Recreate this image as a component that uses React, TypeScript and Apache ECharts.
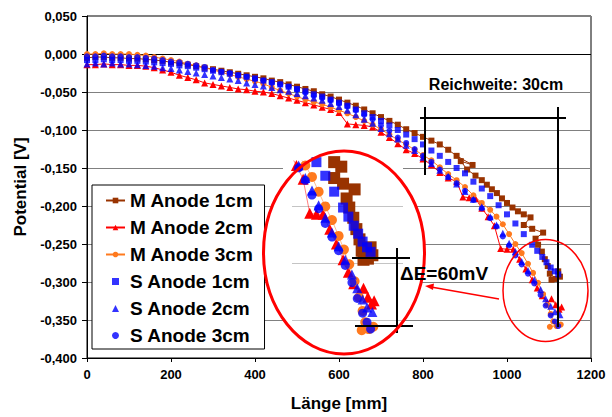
import React, { useEffect, useRef } from 'react';
import * as echarts from 'echarts';

const NAMES = ['M Anode 1cm', 'M Anode 2cm', 'M Anode 3cm', 'S Anode 1cm', 'S Anode 2cm', 'S Anode 3cm'];

const X_TICKS = [0, 200, 400, 600, 800, 1000, 1200];
const Y_MIN = -0.4;
const Y_MAX = 0.05;

// M Anode 1cm
const X_M1 = [0, 20, 40, 60, 80, 100, 120, 140, 160, 180, 200, 220, 240, 260, 280, 300, 320, 340, 360, 380, 400, 420, 440, 460, 480, 500, 520, 540, 560, 580, 600, 620, 640, 660, 680, 700, 720, 740, 760, 780, 800, 820, 840, 860, 880, 918, 890, 905, 925, 940, 952, 964, 976, 988, 1000, 1013, 1026, 1040, 1056, 1040, 1060, 1086, 1068, 1074, 1083, 1090, 1097, 1102, 1106, 1116, 1126, 1122];
const Y_M1 = [-0.005, -0.004, -0.004, -0.005, -0.005, -0.006, -0.006, -0.007, -0.008, -0.009, -0.011, -0.012, -0.014, -0.016, -0.018, -0.020, -0.022, -0.024, -0.026, -0.028, -0.030, -0.032, -0.035, -0.037, -0.040, -0.043, -0.046, -0.049, -0.053, -0.056, -0.060, -0.064, -0.068, -0.073, -0.078, -0.083, -0.088, -0.093, -0.099, -0.104, -0.109, -0.114, -0.119, -0.126, -0.134, -0.146, -0.141, -0.152, -0.160, -0.166, -0.172, -0.178, -0.183, -0.190, -0.196, -0.202, -0.207, -0.211, -0.215, -0.225, -0.230, -0.235, -0.243, -0.251, -0.260, -0.270, -0.279, -0.289, -0.297, -0.296, -0.293, -0.286];

// M Anode 2cm
const X_M2 = [0, 20, 40, 60, 80, 100, 120, 140, 160, 180, 200, 220, 240, 260, 280, 300, 320, 340, 360, 380, 400, 420, 440, 460, 480, 500, 520, 540, 560, 580, 600, 620, 640, 660, 680, 700, 720, 740, 760, 780, 800, 820, 840, 860, 880, 895, 910, 925, 940, 955, 970, 985, 1000, 1015, 1030, 1045, 1060, 1072, 1084, 1096, 1106, 1116, 1124, 1130];
const Y_M2 = [-0.014, -0.014, -0.013, -0.014, -0.014, -0.015, -0.015, -0.016, -0.018, -0.021, -0.024, -0.028, -0.031, -0.034, -0.038, -0.040, -0.042, -0.044, -0.046, -0.047, -0.049, -0.050, -0.052, -0.055, -0.058, -0.061, -0.064, -0.067, -0.070, -0.073, -0.077, -0.092, -0.093, -0.094, -0.096, -0.103, -0.110, -0.118, -0.126, -0.131, -0.138, -0.146, -0.156, -0.163, -0.168, -0.188, -0.189, -0.190, -0.203, -0.214, -0.226, -0.256, -0.257, -0.257, -0.270, -0.283, -0.297, -0.308, -0.318, -0.327, -0.322, -0.330, -0.336, -0.333];

// M Anode 3cm
const X_M3 = [0, 20, 40, 60, 80, 100, 120, 140, 160, 180, 200, 220, 240, 260, 280, 300, 320, 340, 360, 380, 400, 420, 440, 460, 480, 500, 520, 540, 560, 580, 600, 620, 640, 660, 680, 700, 720, 740, 760, 780, 800, 820, 840, 860, 880, 900, 920, 940, 960, 975, 990, 1005, 1020, 1035, 1050, 1062, 1074, 1086, 1096, 1104, 1110, 1118, 1128, 1102];
const Y_M3 = [0.000, 0.000, 0.001, 0.000, 0.000, 0.000, -0.001, -0.002, -0.004, -0.006, -0.008, -0.010, -0.013, -0.015, -0.018, -0.021, -0.024, -0.027, -0.030, -0.033, -0.036, -0.039, -0.044, -0.048, -0.052, -0.056, -0.060, -0.063, -0.066, -0.070, -0.074, -0.078, -0.083, -0.088, -0.093, -0.099, -0.106, -0.113, -0.119, -0.126, -0.133, -0.140, -0.149, -0.158, -0.166, -0.175, -0.186, -0.196, -0.205, -0.214, -0.224, -0.237, -0.250, -0.262, -0.276, -0.288, -0.301, -0.316, -0.330, -0.342, -0.352, -0.358, -0.356, -0.359];

// S Anode 1cm
const X_S1 = [0, 20, 40, 60, 80, 100, 120, 140, 160, 180, 200, 220, 240, 260, 280, 300, 320, 340, 360, 380, 400, 420, 440, 460, 480, 500, 520, 540, 560, 580, 600, 620, 640, 660, 680, 700, 720, 740, 760, 780, 800, 820, 840, 860, 880, 900, 920, 940, 960, 980, 1000, 1020, 1040, 1060, 1072, 1084, 1094, 1104, 1114, 1122];
const Y_S1 = [-0.008, -0.008, -0.007, -0.008, -0.008, -0.009, -0.009, -0.010, -0.011, -0.012, -0.013, -0.015, -0.016, -0.018, -0.020, -0.022, -0.024, -0.026, -0.028, -0.030, -0.032, -0.035, -0.037, -0.040, -0.043, -0.046, -0.049, -0.053, -0.056, -0.060, -0.064, -0.068, -0.073, -0.078, -0.083, -0.088, -0.094, -0.100, -0.106, -0.112, -0.119, -0.127, -0.134, -0.142, -0.150, -0.157, -0.168, -0.177, -0.187, -0.199, -0.211, -0.223, -0.237, -0.251, -0.259, -0.267, -0.274, -0.281, -0.286, -0.290];

// S Anode 2cm
const X_S2 = [0, 20, 40, 60, 80, 100, 120, 140, 160, 180, 200, 220, 240, 260, 280, 300, 320, 340, 360, 380, 400, 420, 440, 460, 480, 500, 520, 540, 560, 580, 600, 620, 640, 660, 680, 700, 720, 740, 760, 780, 800, 820, 840, 860, 880, 900, 920, 940, 960, 975, 990, 1005, 1020, 1035, 1050, 1065, 1080, 1092, 1104, 1114, 1126];
const Y_S2 = [-0.013, -0.012, -0.013, -0.012, -0.013, -0.013, -0.014, -0.015, -0.016, -0.018, -0.019, -0.021, -0.023, -0.025, -0.027, -0.029, -0.031, -0.033, -0.035, -0.038, -0.040, -0.042, -0.044, -0.047, -0.049, -0.052, -0.055, -0.058, -0.061, -0.065, -0.069, -0.074, -0.080, -0.086, -0.091, -0.098, -0.105, -0.112, -0.120, -0.127, -0.136, -0.144, -0.153, -0.161, -0.171, -0.181, -0.191, -0.201, -0.214, -0.225, -0.236, -0.249, -0.260, -0.273, -0.285, -0.297, -0.310, -0.322, -0.332, -0.339, -0.343];

// S Anode 3cm
const X_S3 = [0, 20, 40, 60, 80, 100, 120, 140, 160, 180, 200, 220, 240, 260, 280, 300, 320, 340, 360, 380, 400, 420, 440, 460, 480, 500, 520, 540, 560, 580, 600, 620, 640, 660, 680, 700, 720, 740, 760, 780, 800, 820, 840, 860, 880, 900, 920, 940, 960, 975, 990, 1005, 1020, 1035, 1050, 1065, 1080, 1092, 1104, 1114, 1122];
const Y_S3 = [-0.003, -0.003, -0.002, -0.003, -0.003, -0.004, -0.004, -0.005, -0.006, -0.008, -0.010, -0.011, -0.013, -0.015, -0.017, -0.021, -0.023, -0.025, -0.028, -0.030, -0.033, -0.035, -0.038, -0.040, -0.043, -0.047, -0.051, -0.055, -0.058, -0.061, -0.065, -0.069, -0.074, -0.080, -0.086, -0.094, -0.101, -0.110, -0.117, -0.125, -0.134, -0.142, -0.152, -0.162, -0.170, -0.180, -0.192, -0.203, -0.216, -0.227, -0.240, -0.252, -0.265, -0.277, -0.289, -0.302, -0.317, -0.331, -0.344, -0.352, -0.358];

// inset (zoomed view) ranges and its grid values
const INSET_X_RANGE = [945, 1195];
const INSET_Y_RANGE = [-0.365, -0.21];
const INSET_GRID_VALUES = [-0.25, -0.3, -0.35];

const FONT = '"Liberation Sans", Arial, Helvetica, sans-serif';

const ICON_SQUARE = 'path://M0,0L10,0L10,10L0,10Z';
const ICON_TRIANGLE = 'path://M5,0L10,10L0,10Z';

const pairs = (xs: number[], ys: number[]) => {
  const n = Math.min(xs.length, ys.length);
  const out: number[][] = [];
  for (let i = 0; i < n; i++) out.push([xs[i], ys[i]]);
  return out;
};

const DEFS = [
  { name: NAMES[0], xs: X_M1, ys: Y_M1, color: '#993300', symbol: 'rect', line: true, size: 6, insetSize: 12, icon: '' },
  { name: NAMES[1], xs: X_M2, ys: Y_M2, color: '#FF0000', symbol: 'triangle', line: true, size: 7, insetSize: 11, icon: '' },
  { name: NAMES[2], xs: X_M3, ys: Y_M3, color: '#FF7A1E', symbol: 'circle', line: true, size: 6, insetSize: 10, icon: '' },
  { name: NAMES[3], xs: X_S1, ys: Y_S1, color: '#0000FF', symbol: 'rect', line: false, size: 6, insetSize: 10, icon: ICON_SQUARE },
  { name: NAMES[4], xs: X_S2, ys: Y_S2, color: '#0000FF', symbol: 'triangle', line: false, size: 7, insetSize: 10, icon: ICON_TRIANGLE },
  { name: NAMES[5], xs: X_S3, ys: Y_S3, color: '#0000FF', symbol: 'circle', line: false, size: 6, insetSize: 9, icon: 'circle' },
];

export default function App() {
  const ref = useRef<HTMLDivElement>(null);
  useEffect(() => {
    document.body.style.margin = '0';
    const chart = echarts.init(ref.current!, null, { renderer: 'svg' });

    const series: any[] = [];
    DEFS.forEach((d, i) => {
      const data = pairs(d.xs, d.ys);
      const s: any = {
        name: d.name,
        type: d.line ? 'line' : 'scatter',
        xAxisIndex: 0,
        yAxisIndex: 0,
        data,
        symbol: d.symbol,
        symbolSize: d.size,
        itemStyle: { color: d.color },
        z: 2,
        silent: true,
      };
      if (d.line) {
        s.showSymbol = true;
        s.lineStyle = { color: d.color, width: 1 };
        s.clip = true;
      }
      if (i === 0) {
        s.markLine = {
          silent: true,
          symbol: 'none',
          z: 1,
          label: { show: false },
          lineStyle: { color: '#000', width: 1, type: 'solid' },
          data: [{ yAxis: 0 }],
        };
      }
      series.push(s);
    });
    DEFS.forEach((d, i) => {
      const data = pairs(d.xs, d.ys);
      const s: any = {
        name: d.name,
        type: d.line ? 'line' : 'scatter',
        xAxisIndex: 1,
        yAxisIndex: 1,
        data,
        symbol: d.symbol,
        symbolSize: d.insetSize,
        itemStyle: { color: d.color },
        z: 6,
        silent: true,
        clip: true,
      };
      if (d.line) {
        s.showSymbol = true;
        s.lineStyle = { color: d.color, width: 1, opacity: i === 0 ? 1 : 0.5 };
      }
      if (i === 0) {
        s.markLine = {
          silent: true,
          symbol: 'none',
          z: 4,
          label: { show: false },
          lineStyle: { color: '#c4c4c4', width: 1, type: 'solid' },
          data: INSET_GRID_VALUES.map((v) => ({ yAxis: v })),
        };
      }
      series.push(s);
    });

    const bold = (size: number) => `bold ${size}px ${FONT}`;
    const line = (x1: number, y1: number, x2: number, y2: number, color: string, w: number, z: number) => ({
      type: 'line',
      shape: { x1, y1, x2, y2 },
      style: { stroke: color, lineWidth: w },
      z,
      silent: true,
    });

    const graphic: any[] = [
      { type: 'rect', shape: { x: 283, y: 163, width: 120, height: 175 }, style: { fill: '#fff' }, z: 3, silent: true },
      { type: 'ellipse', shape: { cx: 344, cy: 252.5, rx: 80.5, ry: 101.5 }, style: { fill: '#fff' }, z: 3, silent: true },
      { type: 'ellipse', shape: { cx: 344, cy: 252.5, rx: 80.5, ry: 101.5 }, style: { fill: 'none', stroke: '#FF0000', lineWidth: 3 }, z: 9, silent: true },
      { type: 'ellipse', shape: { cx: 545.5, cy: 290.5, rx: 42.5, ry: 51 }, style: { fill: 'none', stroke: '#FF0000', lineWidth: 1.5 }, z: 9, silent: true },
      line(499, 299, 431, 287, '#FF0000', 1.5, 9),
      { type: 'polygon', shape: { points: [[425, 286], [434, 283.5], [433, 290]] }, style: { fill: '#FF0000' }, z: 9, silent: true },
      // Reichweite
      line(420, 118, 566, 118, '#000', 2, 8),
      line(425, 107, 425, 175, '#000', 2, 8),
      line(558, 107, 558, 327, '#000', 2, 8),
      {
        type: 'text', x: 496, y: 84, z: 8, silent: true,
        style: { text: 'Reichweite: 30cm', font: bold(16), fill: '#000', textAlign: 'center', textVerticalAlign: 'middle', align: 'center', verticalAlign: 'middle' },
      },
      // ΔE bracket
      line(352, 258, 410, 258, '#000', 2, 8),
      line(355, 326, 413, 326, '#000', 2, 8),
      line(397, 248, 397, 333, '#000', 2, 8),
      {
        type: 'text', x: 400, y: 273, z: 10, silent: true,
        style: { text: 'ΔE=60mV', font: bold(19), fill: '#000', textAlign: 'left', textVerticalAlign: 'middle', align: 'left', verticalAlign: 'middle' },
      },
    ];

    const option: any = {
      animation: false,
      backgroundColor: '#fff',
      textStyle: { fontFamily: FONT },
      grid: [
        { left: 87, right: 21, top: 16, bottom: 58, show: true, borderColor: '#000', borderWidth: 1, backgroundColor: '#fff' },
        { left: 292, width: 111, top: 161, height: 176, show: false },
      ],
      xAxis: [
        {
          type: 'value', gridIndex: 0, min: X_TICKS[0], max: X_TICKS[X_TICKS.length - 1], interval: X_TICKS[1] - X_TICKS[0],
          axisLine: { show: true, onZero: false, lineStyle: { color: '#000', width: 1 } },
          axisTick: { show: true, inside: false, length: 4, lineStyle: { color: '#000' } },
          axisLabel: {
            color: '#000', fontSize: 13, fontWeight: 'bold', fontFamily: FONT, margin: 10,
            formatter: (v: number) => String(Math.round(v)),
          },
          splitLine: { show: false },
          name: 'Länge [mm]', nameLocation: 'middle', nameGap: 37,
          nameTextStyle: { color: '#000', fontSize: 17, fontWeight: 'bold', fontFamily: FONT },
        },
        { type: 'value', gridIndex: 1, min: INSET_X_RANGE[0], max: INSET_X_RANGE[1], show: false, splitLine: { show: false } },
      ],
      yAxis: [
        {
          type: 'value', gridIndex: 0, min: Y_MIN, max: Y_MAX, interval: 0.05,
          axisLine: { show: true, onZero: false, lineStyle: { color: '#000', width: 1 } },
          axisTick: { show: true, inside: false, length: 5, lineStyle: { color: '#000' } },
          axisLabel: {
            color: '#000', fontSize: 13, fontWeight: 'bold', fontFamily: FONT, margin: 10,
            formatter: (v: number) => (Math.abs(v) < 1e-9 ? '0,000' : v.toFixed(3).replace('.', ',')),
          },
          splitLine: { show: true, lineStyle: { color: '#808080', width: 1 } },
          name: 'Potential [V]', nameLocation: 'middle', nameRotate: 90, nameGap: 52,
          nameTextStyle: { color: '#000', fontSize: 17, fontWeight: 'bold', fontFamily: FONT },
        },
        { type: 'value', gridIndex: 1, min: INSET_Y_RANGE[0], max: INSET_Y_RANGE[1], show: false, splitLine: { show: false } },
      ],
      legend: {
        show: true,
        orient: 'vertical',
        left: 92,
        top: 185,
        padding: [6, 11, 4, 13],
        itemGap: 8,
        itemWidth: 19,
        itemHeight: 7,
        symbolKeepAspect: true,
        selectedMode: false,
        backgroundColor: '#fff',
        borderColor: '#000',
        borderWidth: 1,
        borderRadius: 0,
        textStyle: { color: '#000', fontSize: 19, fontWeight: 'bold', fontFamily: FONT, padding: [0, 0, 0, 0] },
        data: DEFS.map((d) => (d.icon ? { name: d.name, icon: d.icon } : { name: d.name })),
      },
      series,
      graphic,
    };

    chart.setOption(option);
    return () => chart.dispose();
  }, []);
  return <div ref={ref} style={{ width: 612, height: 417 }} />;
}
